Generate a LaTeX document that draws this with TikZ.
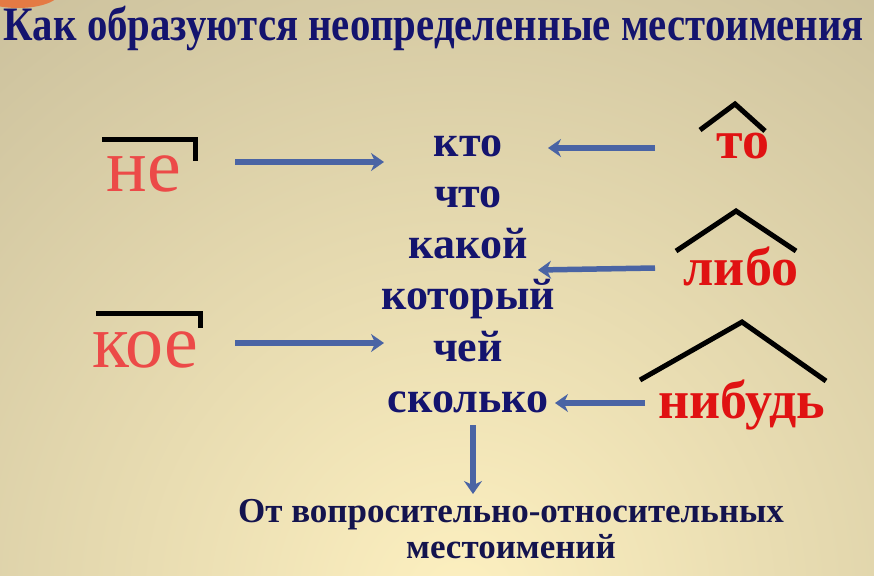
\documentclass[tikz,border=0pt]{standalone}
\usepackage{fontspec}
\setmainfont{Liberation Serif}
\usetikzlibrary{arrows.meta}
\definecolor{navy}{HTML}{14146E}
\definecolor{darknavy}{HTML}{14144E}
\definecolor{softred}{HTML}{EC4A48}
\definecolor{strongred}{HTML}{E01212}
\definecolor{arrowblue}{HTML}{4A64A4}
\definecolor{bginner}{HTML}{FDF0C0}
\definecolor{bgouter}{HTML}{BCB292}
\definecolor{blob}{HTML}{E47A44}
\tikzset{
  midword/.style={anchor=base, text=navy, font=\bfseries\fontsize{44}{48}\selectfont, inner sep=0pt},
  prefword/.style={anchor=base, text=softred, font=\fontsize{76}{80}\selectfont, inner sep=0pt},
  sufword/.style={anchor=base, text=strongred, font=\bfseries\fontsize{54}{58}\selectfont, inner sep=0pt},
  notetext/.style={anchor=base, text=darknavy, font=\bfseries\fontsize{35}{39}\selectfont, inner sep=0pt},
  conn/.style={draw=arrowblue, line width=5.5pt, -{Stealth[length=13pt,width=18pt]}},
  hatline/.style={draw=black, line width=5pt},
}
\begin{document}
\begin{tikzpicture}[x=1pt,y=-1pt]
\useasboundingbox (0,0) rectangle (874,575);
\begin{scope}
  \clip (0,0) rectangle (874,575);
  \fill[bgouter] (0,0) rectangle (874,575);
  \shade[inner color=bginner, outer color=bgouter] (460,600) circle (1000);
  \fill[blob] (18,-8) ellipse (42 and 16);
\end{scope}

% title
\node[anchor=base, text=navy, inner sep=0pt] (title) at (434,41)
  {\scalebox{0.85}[1]{\bfseries\fontsize{48}{52}\selectfont Как образуются неопределенные местоимения}};

% middle words
\node[midword] (kto) at (468,156) {кто};
\node[midword] (chto) at (468,207) {что};
\node[midword] (kakoj) at (468,258) {какой};
\node[midword] (kotoryj) at (468,309) {который};
\node[midword] (chej) at (468,361) {чей};
\node[midword] (skolko) at (468,412) {сколько};

% prefixes
\node[prefword] (ne) at (144,191) {не};
\node[prefword] (koe) at (145,367) {кое};
\draw[hatline] (102,139) -- (195,139) -- (195,161);
\draw[hatline] (96,313) -- (200,313) -- (200,328);

% suffixes
\node[sufword] (to) at (743,158) {то};
\node[sufword] (libo) at (741,285) {либо};
\node[sufword] (nibud) at (742,418) {нибудь};
\draw[hatline] (700,130) -- (735,104) -- (765,131);
\draw[hatline] (676,251) -- (736,211) -- (796,251);
\draw[hatline] (640,380) -- (742,322) -- (826,381);

% bottom note
\node[notetext] (src1) at (511,522) {От вопросительно-относительных};
\node[notetext] (src2) at (511,558) {местоимений};

% arrow end points
\coordinate (a1s) at (235,162); \coordinate (a1e) at (384,162);
\coordinate (a2s) at (235,343); \coordinate (a2e) at (384,343);
\coordinate (a3s) at (655,148); \coordinate (a3e) at (548,148);
\coordinate (a4s) at (655,268); \coordinate (a4e) at (538,270);
\coordinate (a5s) at (645,403); \coordinate (a5e) at (555,403);
\coordinate (a6s) at (473,425); \coordinate (a6e) at (473,494);

\draw[conn] (a1s) -- (a1e);
\draw[conn] (a2s) -- (a2e);
\draw[conn] (a3s) -- (a3e);
\draw[conn] (a4s) -- (a4e);
\draw[conn] (a5s) -- (a5e);
\draw[conn] (a6s) -- (a6e);
\end{tikzpicture}
\end{document}
